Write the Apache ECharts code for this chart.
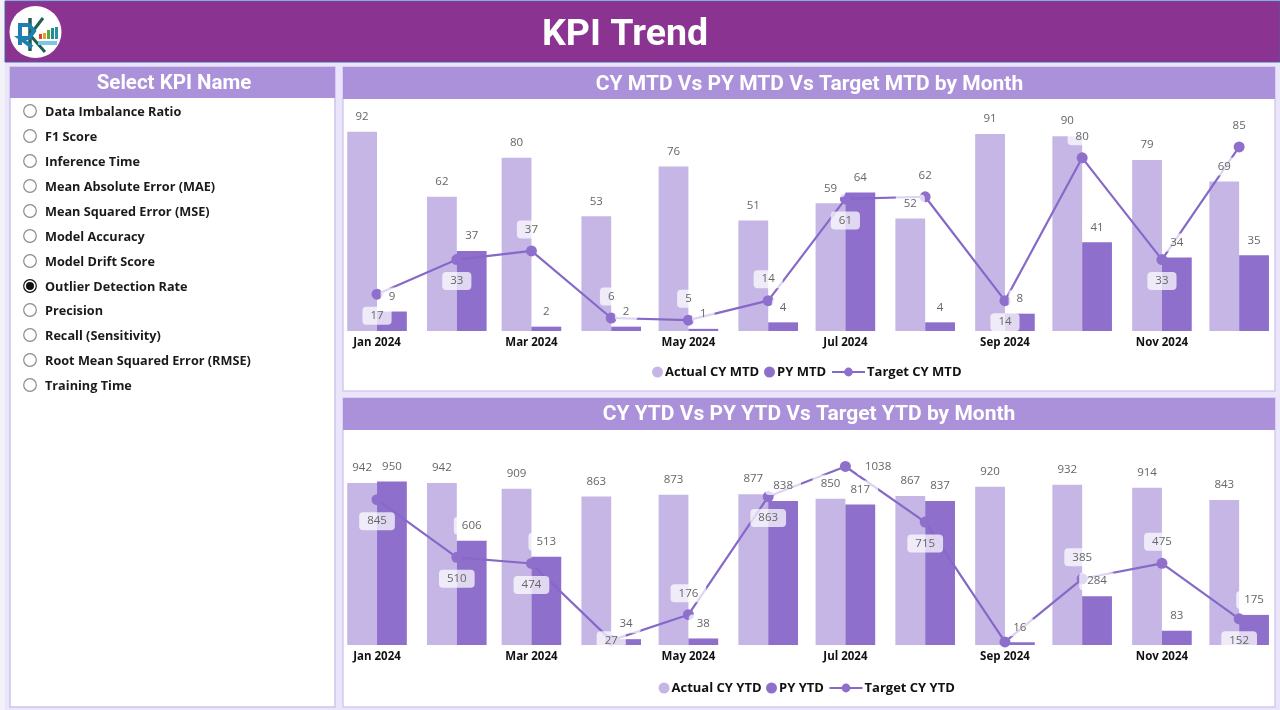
<!DOCTYPE html>
<html><head><meta charset="utf-8">
<style>html,body{margin:0;padding:0;background:#ebe5fb;overflow:hidden}#c{width:1280px;height:710px}</style>
<script src="https://cdn.jsdelivr.net/npm/echarts@6/dist/echarts.min.js"></script>
</head><body><div id="c"></div>
<script>
const months = ['2024-01-01','2024-02-01','2024-03-01','2024-04-01','2024-05-01','2024-06-01','2024-07-01','2024-08-01','2024-09-01','2024-10-01','2024-11-01','2024-12-01'];
const tickMonths = ['2024-01-01','2024-03-01','2024-05-01','2024-07-01','2024-09-01','2024-11-01'];
const tickLabels = ['Jan 2024','Mar 2024','May 2024','Jul 2024','Sep 2024','Nov 2024'];
const kpiNames = ['Data Imbalance Ratio','F1 Score','Inference Time','Mean Absolute Error (MAE)','Mean Squared Error (MSE)','Model Accuracy','Model Drift Score','Outlier Detection Rate','Precision','Recall (Sensitivity)','Root Mean Squared Error (RMSE)','Training Time'];
const selectedKpi = 'Outlier Detection Rate';

const actualMTD = [92,62,80,53,76,51,59,52,91,90,79,69];
const pyMTD     = [9,37,2,2,1,4,64,4,8,41,34,35];
const targetMTD = [17,33,37,6,5,14,61,62,14,80,33,85];
const actualYTD = [942,942,909,863,873,877,850,867,920,932,914,843];
const pyYTD     = [950,606,513,34,38,838,817,837,16,284,83,175];
const targetYTD = [845,510,474,27,176,863,1038,715,18,385,475,152];

// where each target label sits relative to its point
const targetLabelSideMTD = ['bottom','bottom','top','top','top','top','bottom','top','bottom','top','bottom','top'];
const targetLabelSideYTD = ['bottom','bottom','bottom','inside','top','bottom','right','bottom',null,'top','top','bottom'];

const FONT = '"Open Sans","Noto Sans",sans-serif';
const HEAD_FONT = 'Roboto,"Open Sans",sans-serif';
const BAR_LIGHT = '#c6b6e6', BAR_DARK = '#8f6fcc', LINE = '#8668c8', HEAD = '#ab91da';
const DAY = 86400000, BAR_W = 29.8;
const ts = s => Date.parse(s+'T00:00:00Z');
const pairs = arr => arr.map((v,i)=>[ts(months[i]),v]);

const pill = {show:true,color:'#666',fontFamily:FONT,fontSize:11.5,backgroundColor:'rgba(255,255,255,0.72)',padding:[3,8],borderRadius:4,formatter:p=>String(p.value[1])};

function barSeries(name,vals,color,ax){
  return {name,type:'bar',xAxisIndex:ax,yAxisIndex:ax,barWidth:BAR_W,barGap:'0%',itemStyle:{color},data:pairs(vals),
    emphasis:{disabled:true},silent:true};
}
function lineSeries(name,vals,ax){
  return {name,type:'line',xAxisIndex:ax,yAxisIndex:ax,symbol:'circle',symbolSize:11,showSymbol:true,
    lineStyle:{color:LINE,width:2.2},itemStyle:{color:BAR_DARK},emphasis:{disabled:true},silent:true,data:pairs(vals)};
}
// value labels ride on an invisible scatter layer so their pills sit over the line
function labelSeries(vals,ax,dx,sides){
  return {name:'labels',type:'scatter',xAxisIndex:ax,yAxisIndex:ax,z:6,symbolSize:0.01,itemStyle:{color:'transparent',opacity:1},silent:true,emphasis:{disabled:true},
    data:vals.map((v,i)=>{
      const side=sides?sides[i]:'top';
      return {value:[ts(months[i]),v],label:side?{show:true,position:side,offset:[dx,0],distance:sides?(side==='right'?11.5:12.5):6}:{show:false}};
    }),label:Object.assign({},pill)};
}
function xAxis(i){
  const ticks=tickMonths.map(ts);
  return {type:'value',gridIndex:i,min:ts(months[0])-11.55*DAY,max:ts(months[11])+11.6*DAY,scale:true,
    axisLine:{show:false},axisTick:{show:false},splitLine:{show:false},minorTick:{show:false},
    axisLabel:{show:true,color:'#111',fontFamily:FONT,fontWeight:700,fontSize:11.5,margin:6,
      customValues:ticks,hideOverlap:false,
      formatter:v=>{const k=ticks.indexOf(+v);return k>=0?tickLabels[k]:'';}}};
}
function yAxis(i,max){return {type:'value',gridIndex:i,min:0,max,show:false,splitLine:{show:false}};}
function legend(name,left,top,isLine){
  return {data:[isLine?{name}:{name,icon:'circle'}],left,top,orient:'horizontal',selectedMode:false,padding:0,itemGap:0,
    itemWidth:isLine?33:11,itemHeight:11,textStyle:{color:'#111',fontFamily:FONT,fontWeight:700,fontSize:13,padding:[0,0,0,-3]}};
}

const g = [];
const rect=(x,y,w,h,fill,extra)=>g.push(Object.assign({type:'rect',shape:{x,y,width:w,height:h},style:{fill},silent:true},extra||{}));
const txt=(x,y,text,size,fill,align,weight,font)=>g.push({type:'text',x,y,silent:true,z:5,style:{text,fill,font:`${weight||700} ${size}px ${font||HEAD_FONT}`,align:align||'center',verticalAlign:'middle'}});

rect(0,0,5,710,'#f3f1f8');
rect(5,1,1275,61,'#8a3391',{style:{fill:'#8a3391',stroke:'#4d5fa8',lineWidth:1}});
txt(625,36,'KPI Trend',37.5,'#fff');
// logo
g.push({type:'circle',shape:{cx:35.5,cy:32,r:26},style:{fill:'#fff'},silent:true,z:4});
g.push({type:'polyline',shape:{points:[[30,18],[30,51]]},style:{stroke:'#1f5f4f',lineWidth:3.5,fill:null},silent:true,z:4});
g.push({type:'polyline',shape:{points:[[43,18],[30,35],[45,52]]},style:{stroke:'#1f5f4f',lineWidth:3,fill:null},silent:true,z:4});
g.push({type:'polyline',shape:{points:[[20,45],[20,25],[29,25],[34,31],[29,38],[20,38],[32,47]]},style:{stroke:'#1f7fb0',lineWidth:4,fill:null},silent:true,z:4});
[[39,34,3,'#d9442b'],[43,33,3,'#e8a020'],[47,30,3,'#5aa83c'],[51,28,3,'#1f8f8f'],[55,27,3,'#2a8fa8']].forEach(b=>rect(b[0],b[1],b[2],39-b[1],b[3],{z:4}));
rect(38,41,19,4,'#7cc4e8',{z:4});

// sidebar
rect(10,67,325,640,'#fff',{style:{fill:'#fff',stroke:'#cfc3ee',lineWidth:1.5}});
rect(10,67,325,31,HEAD);
txt(174,83.5,'Select KPI Name',20.5,'#fff');
kpiNames.forEach((n,i)=>{
  const y=Math.round(111+24.93*i), sel=n===selectedKpi;
  g.push({type:'circle',shape:{cx:30,cy:y,r:6.3},style:{fill:'#fff',stroke:sel?'#111':'#8c8c8c',lineWidth:1.2},silent:true,z:4});
  if(sel) g.push({type:'circle',shape:{cx:30,cy:y,r:4},style:{fill:'#111'},silent:true,z:5});
  txt(45,y+1,n,12.7,'#1a1a1a','left',700,FONT);
});
// chart panels
rect(343,67,932,324,'#fff',{style:{fill:'#fff',stroke:'#d5caf0',lineWidth:1.5}});
rect(343,67,932,32,HEAD);
txt(809.5,84.5,'CY MTD Vs PY MTD Vs Target MTD by Month',21,'#fff');
rect(343,398,932,309,'#fff',{style:{fill:'#fff',stroke:'#d5caf0',lineWidth:1.5}});
rect(343,398,932,32,HEAD);
txt(809,415,'CY YTD Vs PY YTD Vs Target YTD by Month',21,'#fff');

const chart = echarts.init(document.getElementById('c'),null,{width:1280,height:710});
chart.setOption({
  animation:false,backgroundColor:'#ebe5fb',tooltip:{show:false},
  graphic:{elements:g},
  grid:[{left:347.3,width:921.7,top:100,height:231,containLabel:false},{left:347.3,width:921.7,top:440,height:205,containLabel:false}],
  xAxis:[xAxis(0),xAxis(1)],
  yAxis:[yAxis(0,106.7),yAxis(1,1192)],
  legend:[
    legend('Actual CY MTD',652,365.5),legend('PY MTD',764,365.5),legend('Target CY MTD',831,365.5,true),
    legend('Actual CY YTD',658.5,681.5),legend('PY YTD',766,681.5),legend('Target CY YTD',828.5,681.5,true)
  ],
  series:[
    barSeries('Actual CY MTD',actualMTD,BAR_LIGHT,0),barSeries('PY MTD',pyMTD,BAR_DARK,0),lineSeries('Target CY MTD',targetMTD,0),
    barSeries('Actual CY YTD',actualYTD,BAR_LIGHT,1),barSeries('PY YTD',pyYTD,BAR_DARK,1),lineSeries('Target CY YTD',targetYTD,1),
    labelSeries(actualMTD,0,-BAR_W/2),labelSeries(pyMTD,0,BAR_W/2),labelSeries(targetMTD,0,0,targetLabelSideMTD),
    labelSeries(actualYTD,1,-BAR_W/2),labelSeries(pyYTD,1,BAR_W/2),labelSeries(targetYTD,1,0,targetLabelSideYTD)
  ]
});
</script></body></html>
